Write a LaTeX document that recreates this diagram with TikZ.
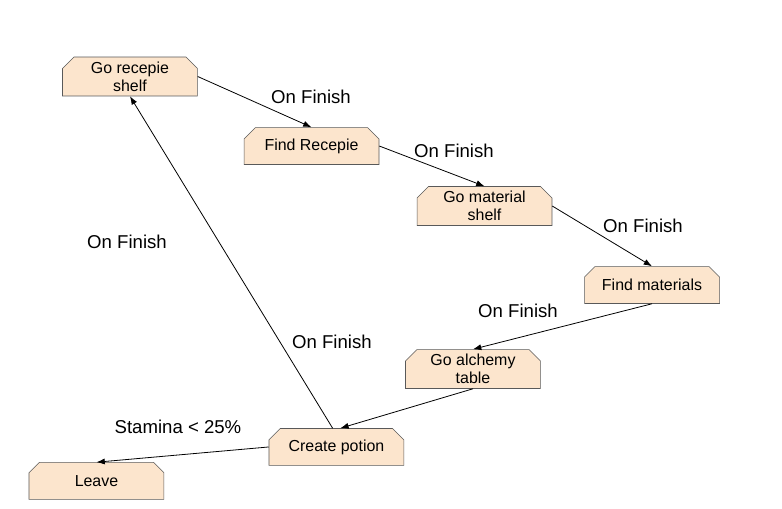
\documentclass[tikz,border=0pt]{standalone}
\usepackage{fontspec}
\setmainfont{Liberation Sans}
\usepackage{tikz}
\usetikzlibrary{shapes.misc,arrows.meta}
\definecolor{statefill}{HTML}{FCE5CD}
\definecolor{stateline}{HTML}{595959}
\tikzset{>={Latex[width=1.6mm,length=2.2mm]}}
\tikzset{
  state/.style={shape=chamfered rectangle,chamfered rectangle corners={north west,north east},
    chamfered rectangle angle=45,chamfered rectangle xsep=0.07in,draw=stateline,fill=statefill,
    minimum height=0.385in,minimum width=1.406in,inner sep=0pt,align=center,
    font=\fontsize{12}{13.5}\selectfont},
  trans/.style={->,black,line width=0.6pt},
  lbl/.style={font=\fontsize{14}{16}\selectfont}
}

\begin{document}
\begin{tikzpicture}

\path[use as bounding box] (0,0) rectangle (8.146in,-5.292in);

\path (1.354in,-0.797in) node (recshelf) [state]{Go recepie\\shelf};

\path (3.245in,-1.521in) node (findrec) [state]{Find Recepie};

\path (5.047in,-2.146in) node (matshelf) [state]{Go material\\shelf};

\path (6.792in,-2.969in) node (findmat) [state]{Find materials};

\path (4.927in,-3.844in) node (alchemy) [state]{Go alchemy\\table};

\path (3.505in,-4.656in) node (potion) [state]{Create potion};

\path (1.005in,-5.010in) node (leave) [state]{Leave};

\draw [trans] (recshelf.east) -- (findrec.north);
\draw [trans] (findrec.east) -- (matshelf.north);
\draw [trans] (matshelf.east) -- (findmat.north);
\draw [trans] (findmat.south) -- (alchemy.north);
\draw [trans] (alchemy.south) -- ([xshift=0.04in]potion.north);
\draw [trans] ([xshift=-0.04in]potion.north) -- (recshelf.south);
\draw [trans] (potion.west) -- (leave.north);

\path (3.240in,-1.010in) node (lfin1) [lbl]{On Finish};
\path (4.729in,-1.573in) node (lfin2) [lbl]{On Finish};
\path (6.698in,-2.354in) node (lfin3) [lbl]{On Finish};
\path (5.396in,-3.240in) node (lfin4) [lbl]{On Finish};
\path (1.323in,-2.521in) node (lfin5) [lbl]{On Finish};
\path (3.458in,-3.563in) node (lfin6) [lbl]{On Finish};
\path (1.854in,-4.448in) node (lstam) [lbl]{Stamina < 25\%};

\end{tikzpicture}
\end{document}
